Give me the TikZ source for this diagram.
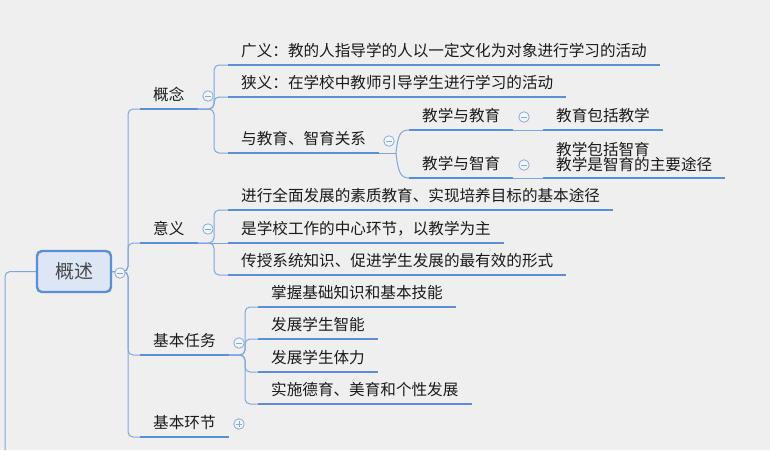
\documentclass[tikz,border=0pt]{standalone}
\usepackage{fontspec}
\newfontfamily\cjk{Noto Sans CJK SC}
\definecolor{fond}{HTML}{EFEFEF}
\definecolor{trait}{HTML}{5A8ED6}
\definecolor{lienc}{HTML}{7DA7E0}
\definecolor{racinefond}{HTML}{DCE6F5}
\definecolor{bouton}{HTML}{86ABE2}
\definecolor{boutonfond}{HTML}{F3F6FB}
\definecolor{texte}{HTML}{1A1A1A}

\begin{document}
\begin{tikzpicture}[x=1pt,y=-1pt]
		\tikzstyle{souligne}=[draw=trait,line width=2.8pt]
		\tikzstyle{lien}=[draw=lienc,line width=1pt,rounded corners=5pt]
		\tikzstyle{sujet}=[anchor=south west,inner xsep=13pt,inner ysep=6pt,text height=11pt,text depth=2pt,text=texte,font=\cjk\fontsize{15.6}{15.5}\selectfont,append after command={(\tikzlastnode.south west) edge[souligne] (\tikzlastnode.south east)}]
		\tikzstyle{racine}=[draw=trait,line width=2.4pt,fill=racinefond,rounded corners=5pt,minimum width=74pt,minimum height=41pt,text=texte!80,font=\cjk\fontsize{19}{19}\selectfont]
		\tikzstyle{ouvert}=[circle,draw=bouton,fill=boutonfond,line width=0.8pt,minimum size=10.5pt,inner sep=0pt,path picture={\draw[bouton,line width=1pt] ([xshift=-2.8pt]path picture bounding box.center) -- ([xshift=2.8pt]path picture bounding box.center);}]
		\tikzstyle{ferme}=[ouvert,path picture={\draw[bouton,line width=1pt] ([xshift=-2.8pt]path picture bounding box.center) -- ([xshift=2.8pt]path picture bounding box.center) ([yshift=-2.8pt]path picture bounding box.center) -- ([yshift=2.8pt]path picture bounding box.center);}]
		\fill[fond] (0,0) rectangle (770,450);
		\node[racine] (R) at (74,271.5) {概述};
		\node[sujet] (GN) at (140,109) {概念};
		\node[sujet] (GY) at (228,65) {广义：教的人指导学的人以一定文化为对象进行学习的活动};
		\node[sujet] (XY) at (228,97) {狭义：在学校中教师引导学生进行学习的活动};
		\node[sujet] (GX) at (228,153) {与教育、智育关系};
		\node[sujet] (JY) at (409,130) {教学与教育};
		\node[sujet] (JZ) at (409,178) {教学与智育};
		\node[sujet] (BK) at (543,130) {教育包括教学};
		\node[sujet,align=left,text height={},text depth={}] (ZY) at (543,178) {教学包括智育\\教学是智育的主要途径};
		\node[sujet] (YY) at (140,243) {意义};
		\node[sujet] (Y1) at (228,210) {进行全面发展的素质教育、实现培养目标的基本途径};
		\node[sujet] (Y2) at (228,243) {是学校工作的中心环节，以教学为主};
		\node[sujet] (Y3) at (228,275) {传授系统知识、促进学生发展的最有效的形式};
		\node[sujet] (RW) at (140,355) {基本任务};
		\node[sujet] (R1) at (258,307) {掌握基础知识和基本技能};
		\node[sujet] (R2) at (258,339) {发展学生智能};
		\node[sujet] (R3) at (258,372) {发展学生体力};
		\node[sujet] (R4) at (258,404) {实施德育、美育和个性发展};
		\node[sujet] (HJ) at (140,437) {基本环节};
		\coordinate (J) at (396,153);
		\coordinate (bas) at (5,450);

		\draw[lien] (R.west) -| (bas);
		\draw[lien] (R.east) -| ([xshift=-12pt]GN.south west) -- (GN.south west);
		\draw[lien] (R.east) -| ([xshift=-12pt]YY.south west) -- (YY.south west);
		\draw[lien] (R.east) -| ([xshift=-12pt]RW.south west) -- (RW.south west);
		\draw[lien] (R.east) -| ([xshift=-12pt]HJ.south west) -- (HJ.south west);
		\draw[lien] (GN.south east) -| ([xshift=-14pt]GY.south west) -- (GY.south west);
		\draw[lien] (GN.south east) -| ([xshift=-14pt]XY.south west) -- (XY.south west);
		\draw[lien] (GN.south east) -| ([xshift=-14pt]GX.south west) -- (GX.south west);
		\draw[lien] (GX.south east) -- (J);
		\draw[lien] (J) .. controls +(2,-18) and +(-9,0) .. (JY.south west);
		\draw[lien] (J) .. controls +(2,18) and +(-9,0) .. (JZ.south west);
		\draw[lien] (JY.south east) -- (BK.south west);
		\draw[lien] (JZ.south east) -- (ZY.south west);
		\draw[lien] (YY.south east) -| ([xshift=-14pt]Y1.south west) -- (Y1.south west);
		\draw[lien] (YY.south east) -- (Y2.south west);
		\draw[lien] (YY.south east) -| ([xshift=-14pt]Y3.south west) -- (Y3.south west);
		\draw[lien] (RW.south east) -| ([xshift=-13pt]R1.south west) -- (R1.south west);
		\draw[lien] (RW.south east) -| ([xshift=-13pt]R2.south west) -- (R2.south west);
		\draw[lien] (RW.south east) -| ([xshift=-13pt]R3.south west) -- (R3.south west);
		\draw[lien] (RW.south east) -| ([xshift=-13pt]R4.south west) -- (R4.south west);

		\node[ouvert] (bR) at (120,273) {};
		\node[ouvert] (bGN) at (208,96) {};
		\node[ouvert] (bGX) at (389,141) {};
		\node[ouvert] (bJY) at (524,117) {};
		\node[ouvert] (bJZ) at (524,165) {};
		\node[ouvert] (bYY) at (208,229) {};
		\node[ouvert] (bRW) at (239,343) {};
		\node[ferme] (bHJ) at (239,424) {};
	\end{tikzpicture}
\end{document}
